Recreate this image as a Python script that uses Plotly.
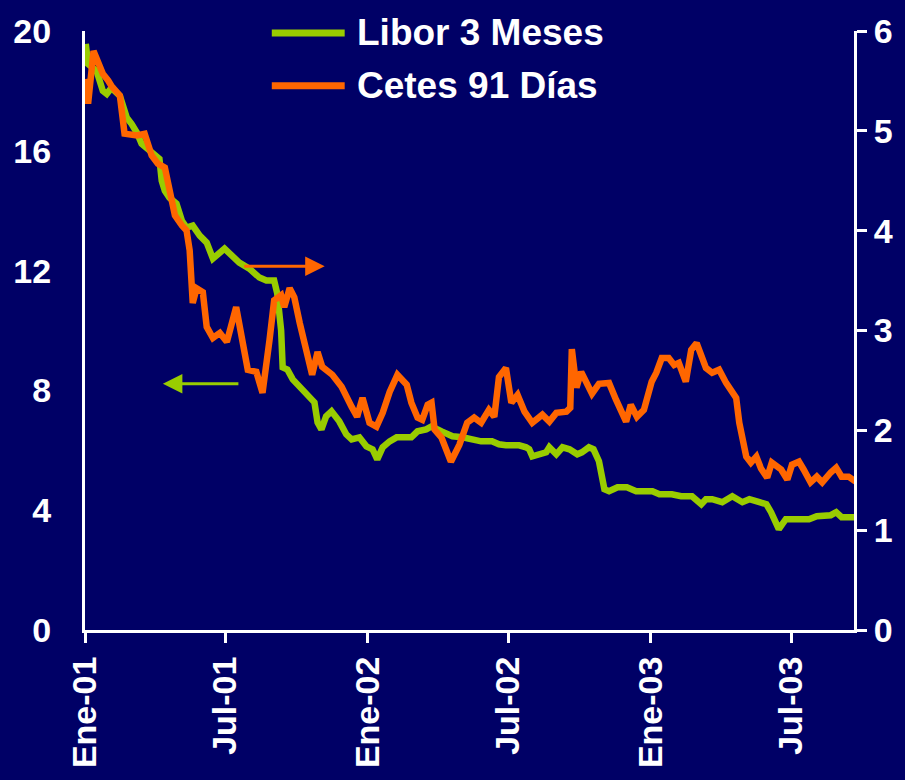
import plotly.graph_objects as go

# Cetes 91 días (left axis, %)
cetes_dates = ["2001-01-02","2001-01-05","2001-01-12","2001-01-24","2001-01-31","2001-02-04","2001-02-15","2001-02-21","2001-03-09","2001-03-19","2001-03-28","2001-04-05","2001-04-14","2001-04-23","2001-04-27","2001-05-06","2001-05-12","2001-05-16","2001-05-20","2001-05-25","2001-06-02","2001-06-07","2001-06-15","2001-06-24","2001-07-03","2001-07-15","2001-07-23","2001-07-30","2001-08-10","2001-08-18","2001-08-27","2001-09-02","2001-09-11","2001-09-15","2001-09-22","2001-09-28","2001-10-05","2001-10-14","2001-10-21","2001-10-28","2001-11-03","2001-11-16","2001-11-28","2001-12-11","2001-12-18","2001-12-25","2002-01-03","2002-01-12","2002-01-20","2002-01-29","2002-02-08","2002-02-20","2002-02-26","2002-03-06","2002-03-12","2002-03-19","2002-03-24","2002-03-28","2002-04-06","2002-04-18","2002-04-29","2002-05-09","2002-05-18","2002-05-27","2002-06-06","2002-06-13","2002-06-19","2002-06-28","2002-07-05","2002-07-13","2002-07-22","2002-08-01","2002-08-14","2002-08-23","2002-09-01","2002-09-14","2002-09-19","2002-09-21","2002-09-27","2002-10-03","2002-10-09","2002-10-17","2002-10-26","2002-11-08","2002-11-17","2002-11-30","2002-12-06","2002-12-14","2002-12-23","2003-01-02","2003-01-08","2003-01-15","2003-01-24","2003-01-31","2003-02-06","2003-02-15","2003-02-22","2003-03-01","2003-03-13","2003-03-21","2003-03-30","2003-04-08","2003-04-21","2003-04-25","2003-05-04","2003-05-10","2003-05-17","2003-05-23","2003-05-31","2003-06-06","2003-06-18","2003-06-26","2003-07-02","2003-07-11","2003-07-17","2003-07-26","2003-08-03","2003-08-10","2003-08-21","2003-08-28","2003-09-04","2003-09-13","2003-09-22"]
cetes_vals = [18.40,17.57,19.33,18.57,18.34,18.17,17.84,16.57,16.51,16.57,15.84,15.57,15.44,14.34,13.84,13.51,13.34,12.68,10.92,11.41,11.28,10.12,9.75,9.92,9.62,10.78,9.58,8.69,8.62,7.92,9.68,11.01,11.18,10.78,11.41,11.11,10.25,9.35,8.52,9.28,8.79,8.52,8.12,7.45,7.12,7.75,6.92,6.79,7.25,7.95,8.52,8.19,7.59,7.09,7.02,7.52,7.59,6.69,6.42,5.62,6.19,6.92,7.09,6.92,7.35,7.12,8.45,8.75,7.59,7.85,7.29,6.92,7.19,6.96,7.25,7.29,7.42,9.38,8.09,8.62,8.35,7.89,8.22,8.25,7.69,6.96,7.52,7.12,7.35,8.29,8.59,9.08,9.08,8.85,8.92,8.29,9.35,9.58,8.75,8.59,8.69,8.25,7.75,6.92,5.79,5.59,5.79,5.39,5.09,5.59,5.36,5.02,5.52,5.62,5.36,4.93,5.12,4.93,5.26,5.42,5.12,5.12,4.96]

# Libor 3 meses (right axis, %)
libor_dates = ["2001-01-02","2001-01-05","2001-01-16","2001-01-24","2001-01-29","2001-02-04","2001-02-15","2001-02-24","2001-03-02","2001-03-09","2001-03-15","2001-03-23","2001-04-01","2001-04-07","2001-04-10","2001-04-14","2001-04-20","2001-04-29","2001-05-06","2001-05-12","2001-05-20","2001-05-29","2001-06-07","2001-06-15","2001-06-30","2001-07-09","2001-07-19","2001-08-01","2001-08-14","2001-08-23","2001-09-02","2001-09-06","2001-09-11","2001-09-13","2001-09-19","2001-09-26","2001-10-09","2001-10-18","2001-10-24","2001-10-28","2001-11-02","2001-11-08","2001-11-15","2001-11-25","2001-12-04","2001-12-11","2001-12-21","2001-12-30","2002-01-07","2002-01-13","2002-01-20","2002-01-29","2002-02-07","2002-02-26","2002-03-06","2002-03-17","2002-03-24","2002-04-06","2002-04-20","2002-05-03","2002-05-16","2002-05-27","2002-06-10","2002-06-19","2002-06-28","2002-07-15","2002-07-24","2002-07-28","2002-08-01","2002-08-10","2002-08-19","2002-08-23","2002-09-01","2002-09-09","2002-09-18","2002-09-28","2002-10-04","2002-10-13","2002-10-19","2002-10-26","2002-11-02","2002-11-08","2002-11-19","2002-12-01","2002-12-13","2003-01-03","2003-01-12","2003-01-28","2003-02-09","2003-02-23","2003-03-07","2003-03-13","2003-03-21","2003-04-03","2003-04-16","2003-04-29","2003-05-08","2003-05-21","2003-05-30","2003-06-05","2003-06-15","2003-06-24","2003-07-24","2003-08-03","2003-08-21","2003-08-28","2003-09-04","2003-09-22"]
libor_vals = [5.87,5.67,5.60,5.40,5.37,5.43,5.35,5.13,5.07,4.98,4.87,4.82,4.77,4.72,4.50,4.40,4.33,4.27,4.10,4.03,4.05,3.95,3.88,3.72,3.82,3.75,3.68,3.62,3.53,3.50,3.50,3.37,3.00,2.63,2.61,2.51,2.41,2.34,2.28,2.08,2.01,2.14,2.19,2.09,1.96,1.91,1.93,1.84,1.81,1.71,1.83,1.89,1.93,1.93,1.99,2.01,2.04,1.99,1.94,1.93,1.91,1.89,1.89,1.86,1.85,1.85,1.83,1.81,1.74,1.76,1.78,1.83,1.76,1.83,1.81,1.76,1.78,1.83,1.81,1.69,1.41,1.39,1.43,1.43,1.39,1.39,1.36,1.36,1.34,1.34,1.26,1.31,1.31,1.28,1.34,1.28,1.31,1.28,1.26,1.18,1.01,1.11,1.11,1.14,1.15,1.18,1.13,1.13]

tick_dates = ["2001-01-01", "2001-07-01", "2002-01-01", "2002-07-01", "2003-01-01", "2003-07-01"]
tick_labels = ["Ene-01", "Jul-01", "Ene-02", "Jul-02", "Ene-03", "Jul-03"]
left_ticks = [0, 4, 8, 12, 16, 20]
right_ticks = [0, 1, 2, 3, 4, 5, 6]

BG = "#000066"
GREEN = "#99CC00"
ORANGE = "#FF6600"
WHITE = "#FFFFFF"
FONT = "Liberation Sans"

fig = go.Figure()

# Libor on the right-hand axis
fig.add_trace(go.Scatter(
    x=libor_dates, y=libor_vals, mode="lines", name="Libor 3 Meses",
    line=dict(color=GREEN, width=6.5, shape="linear"), yaxis="y", showlegend=False,
))
# Cetes on the left-hand axis (overlaying, so it is drawn on top)
fig.add_trace(go.Scatter(
    x=cetes_dates, y=cetes_vals, mode="lines", name="Cetes 91 Días",
    line=dict(color=ORANGE, width=6.5, shape="linear"), yaxis="y2", showlegend=False,
))

tickfont = dict(family=FONT, size=34, color=WHITE, weight="bold")

fig.update_layout(
    width=905, height=780,
    margin=dict(l=85, r=50, t=30, b=149),
    paper_bgcolor=BG, plot_bgcolor=BG,
    xaxis=dict(
        type="date", range=["2001-01-01", "2003-09-20"],
        tickvals=tick_dates, ticktext=tick_labels, tickangle=-90,
        tickfont=tickfont, showgrid=False, zeroline=False,
        showline=True, linecolor=WHITE, linewidth=3,
        ticks="outside", ticklen=10, tickwidth=3, tickcolor=WHITE,
    ),
    yaxis=dict(
        side="right", range=[0, 6], tickvals=right_ticks,
        tickfont=tickfont, showgrid=False, zeroline=False,
        showline=True, linecolor=WHITE, linewidth=3,
        ticks="outside", ticklen=10, tickwidth=3, tickcolor=WHITE,
    ),
    yaxis2=dict(
        side="left", overlaying="y", range=[0, 20], tickvals=left_ticks,
        tickfont=tickfont, showgrid=False, zeroline=False,
        showline=True, linecolor=WHITE, linewidth=3,
        ticks="", ticklabelstandoff=24,
    ),
)

# Legend drawn as line samples with labels
legend_items = [("Libor 3 Meses", GREEN, 0.9967), ("Cetes 91 Días", ORANGE, 0.9085)]
for label, color, ypos in legend_items:
    fig.add_shape(type="line", xref="paper", yref="paper",
                  x0=0.2429, x1=0.3377, y0=ypos, y1=ypos,
                  line=dict(color=color, width=7))
    fig.add_annotation(x=0.3506, y=ypos, xref="paper", yref="paper",
                       text=label, showarrow=False, xanchor="left", yanchor="middle",
                       font=dict(family=FONT, size=37, color=WHITE, weight="bold"))

# Axis pointers
fig.add_annotation(x=0.3117, y=0.6073, xref="paper", yref="paper", text="",
                   showarrow=True, ax=-82, ay=0, arrowhead=2, arrowsize=1.3,
                   arrowwidth=3, arrowcolor=ORANGE)
fig.add_annotation(x=0.1013, y=0.411, xref="paper", yref="paper", text="",
                   showarrow=True, ax=77, ay=0, arrowhead=2, arrowsize=1.3,
                   arrowwidth=3, arrowcolor=GREEN)

fig.write_html("out.html")
